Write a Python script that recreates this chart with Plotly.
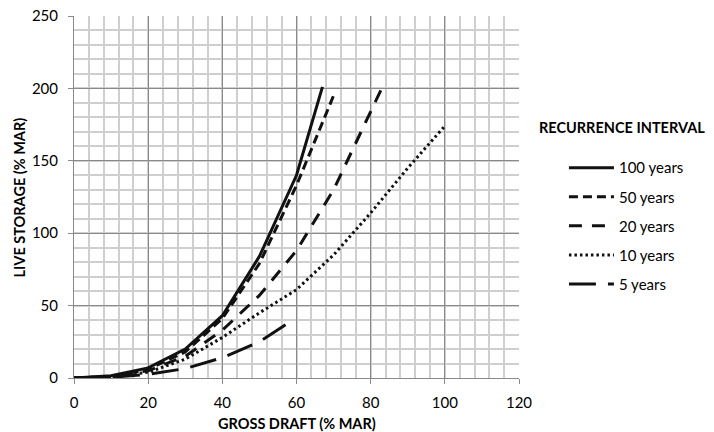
import plotly.graph_objects as go

# Data
x_100 = [0, 10, 20, 30, 40, 50, 60, 67]
y_100 = [0, 1.5, 7, 20, 43, 84, 140, 201]
x_50 = [0, 10, 20, 30, 40, 50, 60, 70]
y_50 = [0, 1, 6, 18, 41, 79, 133, 195]
x_20 = [0, 10, 20, 30, 40, 50, 60, 70, 80, 83]
y_20 = [0, 1, 5, 15, 33, 57, 88, 130, 184, 200]
x_10 = [0, 10, 20, 30, 40, 50, 60, 70, 80, 90, 100]
y_10 = [0, 1, 4, 13, 28, 45, 61, 85, 114, 145, 174]
x_5 = [0, 10, 20, 30, 40, 50, 59]
y_5 = [0, 0.5, 2.5, 6.5, 14, 25, 40]

series_names = ["100 years", "50 years", "20 years", "10 years", "5 years"]
x_ticks = [0, 20, 40, 60, 80, 100, 120]
y_ticks = [0, 50, 100, 150, 200, 250]

FONT = "Lato, 'Open Sans', sans-serif"
dashes = ["solid", "9px,5px", "13px,10px", "2.5px,3px", "27px,12px"]
xs = [x_100, x_50, x_20, x_10, x_5]
ys = [y_100, y_50, y_20, y_10, y_5]

fig = go.Figure()
for i, (name, xv, yv) in enumerate(zip(series_names, xs, ys)):
    fig.add_trace(go.Scatter(
        x=xv, y=yv, mode="lines", name=name, legendgroup=name,
        line=dict(color="#111111", width=3, dash=dashes[i]),
    ))

fig.update_layout(
    width=714, height=432,
    margin=dict(l=74, r=195, t=16, b=54, autoexpand=False),
    plot_bgcolor="white", paper_bgcolor="white",
    font=dict(family=FONT, size=15, color="#000000"),
    showlegend=True,
    legend=dict(
        x=1.101, xanchor="left", xref="paper", y=0.626, yanchor="top",
        bgcolor="rgba(0,0,0,0)", tracegroupgap=6.6, itemwidth=45,
        font=dict(family=FONT, size=15, color="#000000"),
    ),
    xaxis=dict(
        range=[0, 120], tickvals=x_ticks, ticktext=[str(v) for v in x_ticks],
        showgrid=True, gridcolor="#8a8a8a", gridwidth=1,
        minor=dict(dtick=4, tick0=0, showgrid=True, gridcolor="#cfcfcf", gridwidth=1.5),
        showline=True, linecolor="#8a8a8a", linewidth=1,
        ticks="outside", ticklen=5, tickcolor="#8a8a8a",
        ticklabelstandoff=6,
        zeroline=False, automargin=False,
        tickfont=dict(family=FONT, size=15),
    ),
    yaxis=dict(
        range=[0, 250], tickvals=y_ticks, ticktext=[str(v) for v in y_ticks],
        showgrid=True, gridcolor="#8a8a8a", gridwidth=1,
        minor=dict(dtick=10, tick0=0, showgrid=True, gridcolor="#cfcfcf", gridwidth=1.5),
        showline=True, linecolor="#8a8a8a", linewidth=1,
        ticks="outside", ticklen=5, tickcolor="#8a8a8a",
        ticklabelstandoff=7,
        zeroline=False, automargin=False,
        tickfont=dict(family=FONT, size=15),
    ),
    annotations=[
        dict(text="<b>RECURRENCE INTERVAL</b>", xref="paper", yref="paper",
             x=1.2305, y=0.691, xanchor="center", yanchor="middle", showarrow=False,
             font=dict(family=FONT, size=14.5, color="#000000")),
        dict(text="<b>GROSS DRAFT (% MAR)</b>", xref="paper", yref="paper",
             x=0.5, y=-0.127, xanchor="center", yanchor="middle", showarrow=False,
             font=dict(family=FONT, size=14.5, color="#000000")),
        dict(text="<b>LIVE STORAGE (% MAR)</b>", xref="paper", yref="paper",
             x=-0.1225, y=0.5, xanchor="center", yanchor="middle", showarrow=False,
             textangle=-90,
             font=dict(family=FONT, size=14.5, color="#000000")),
    ],
)

fig.write_html("out.html", config={"displayModeBar": False},
               post_script="document.body.style.margin='0';document.body.style.padding='0';")
